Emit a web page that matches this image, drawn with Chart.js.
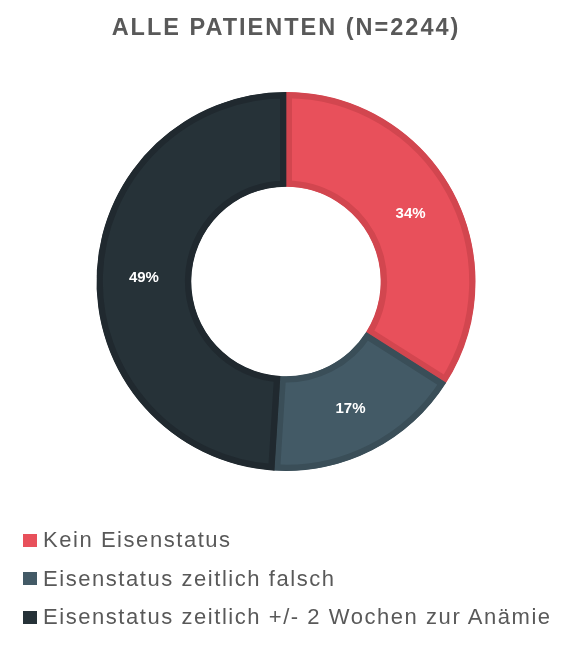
<!DOCTYPE html>
<html>
<head>
<meta charset="utf-8">
<script src="https://cdn.jsdelivr.net/npm/chart.js@4/dist/chart.umd.min.js"></script>
<style>
  html, body { margin: 0; padding: 0; background: #ffffff; }
  #wrap { position: relative; width: 587px; height: 648px; overflow: hidden; }
  #chart { position: absolute; left: 0; top: 0; }
  #title {
    position: absolute; left: 0; width: 572px; top: 13px; text-align: center;
    font-family: "Liberation Sans", Arial, sans-serif; font-weight: bold;
    font-size: 23.5px; letter-spacing: 2px; color: #595959; line-height: 28px;
  }
  #legend { position: absolute; left: 23px; top: 521px; }
  .item {
    display: flex; align-items: center; height: 38.5px;
    font-family: "Liberation Sans", Arial, sans-serif; font-size: 22px;
    letter-spacing: 1.55px; color: #595959; white-space: nowrap;
  }
  .box { width: 14px; height: 13px; margin-right: 6px; flex: none; }
</style>
</head>
<body>
<div id="wrap">
  <canvas id="chart" width="587" height="648"></canvas>
  <div id="title"></div>
  <div id="legend"></div>
</div>
<script>
const chartTitle = "ALLE PATIENTEN (N=2244)";
const categories = ["Kein Eisenstatus", "Eisenstatus zeitlich falsch", "Eisenstatus zeitlich +/- 2 Wochen zur Anämie"];
const shares = [34, 17, 49];
const fillColors = ["#e8505b", "#435a66", "#263238"];
const borderColors = ["#d2464f", "#3a4e58", "#20292f"];

document.getElementById("title").textContent = chartTitle;
const legend = document.getElementById("legend");
categories.forEach((c, i) => {
  const it = document.createElement("div");
  it.className = "item";
  const b = document.createElement("span");
  b.className = "box";
  b.style.background = fillColors[i];
  const t = document.createElement("span");
  t.textContent = c;
  it.appendChild(b); it.appendChild(t);
  legend.appendChild(it);
});

const labelPlugin = {
  id: "sliceLabels",
  afterDatasetsDraw(chart) {
    const ctx = chart.ctx;
    const meta = chart.getDatasetMeta(0);
    ctx.save();
    ctx.fillStyle = "#ffffff";
    ctx.font = "bold 15px 'Liberation Sans', Arial, sans-serif";
    ctx.textAlign = "center";
    ctx.textBaseline = "middle";
    meta.data.forEach((arc, i) => {
      const p = arc.tooltipPosition();
      ctx.fillText(shares[i] + "%", p.x, p.y + 1);
    });
    ctx.restore();
  }
};

new Chart(document.getElementById("chart"), {
  type: "doughnut",
  data: {
    labels: categories,
    datasets: [{
      data: shares,
      backgroundColor: fillColors,
      borderColor: borderColors,
      borderWidth: 6,
      borderAlign: "inner"
    }]
  },
  options: {
    responsive: false,
    animation: false,
    cutout: "50%",
    layout: { padding: { top: 92, bottom: 177, left: 0, right: 15 } },
    plugins: {
      legend: { display: false },
      tooltip: { enabled: false },
      title: { display: false }
    }
  },
  plugins: [labelPlugin]
});
</script>
</body>
</html>
